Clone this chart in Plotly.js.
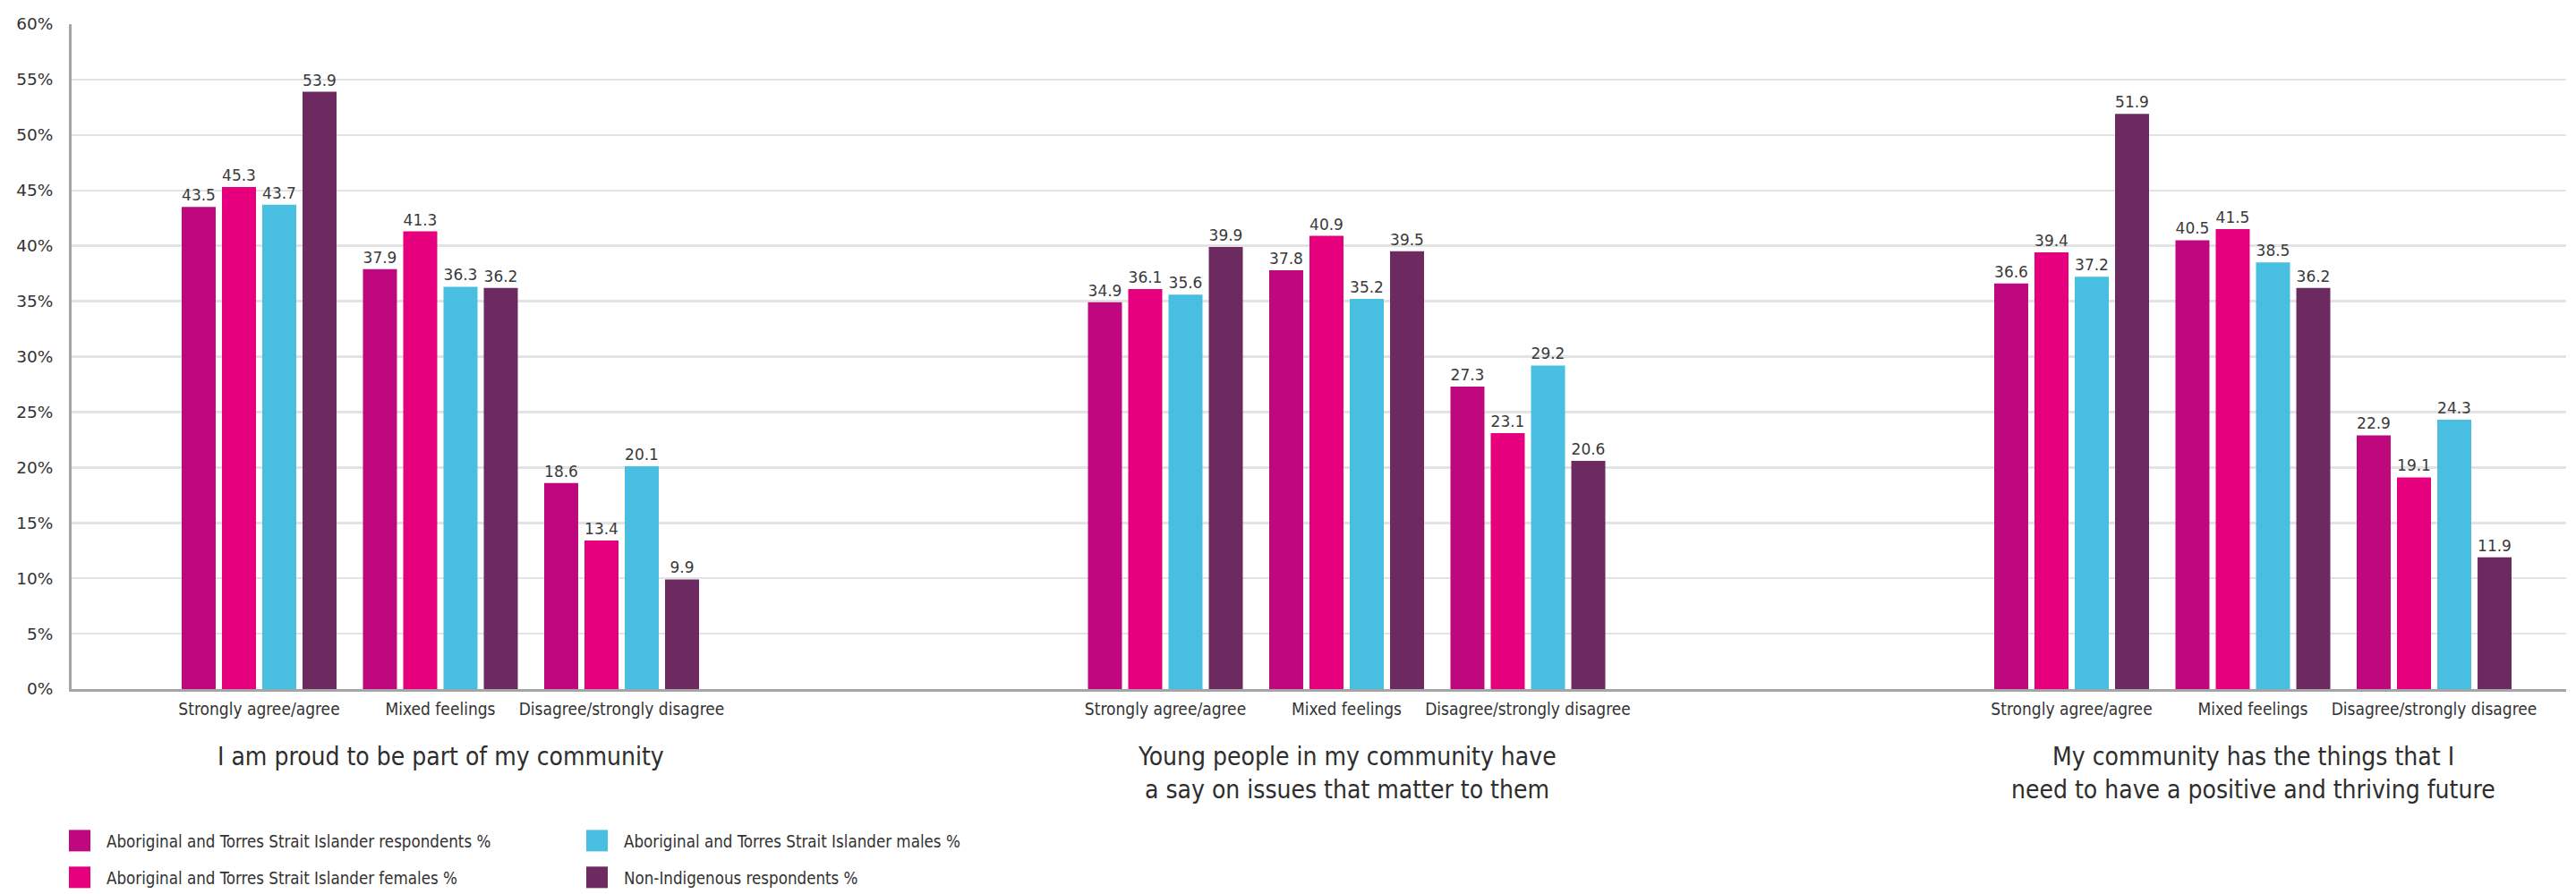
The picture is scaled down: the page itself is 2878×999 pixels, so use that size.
<!DOCTYPE html>
<html>
<head>
<meta charset="utf-8">
<script src="https://cdn.plot.ly/plotly-3.0.1.min.js"></script>
<style>
html, body { margin: 0; padding: 0; background: #ffffff; }
#chart { width: 2878px; height: 999px; }
</style>
</head>
<body>
<div id="chart"></div>
<script>
// ---------------- DATA ----------------
const questions = [
  ["I am proud to be part of my community"],
  ["Young people in my community have", "a say on issues that matter to them"],
  ["My community has the things that I", "need to have a positive and thriving future"]
];
const responses = ["Strongly agree/agree", "Mixed feelings", "Disagree/strongly disagree"];

const seriesNames = [
  "Aboriginal and Torres Strait Islander respondents %",
  "Aboriginal and Torres Strait Islander females %",
  "Aboriginal and Torres Strait Islander males %",
  "Non-Indigenous respondents %"
];
const seriesColors = ["#c0087e", "#e6007e", "#48bee1", "#6c2a60"];

// values per question, in order: [Strongly agree/agree, Mixed feelings, Disagree/strongly disagree]
const atsiRespondents = [43.5, 37.9, 18.6,  34.9, 37.8, 27.3,  36.6, 40.5, 22.9];
const atsiFemales     = [45.3, 41.3, 13.4,  36.1, 40.9, 23.1,  39.4, 41.5, 19.1];
const atsiMales       = [43.7, 36.3, 20.1,  35.6, 35.2, 29.2,  37.2, 38.5, 24.3];
const nonIndigenous   = [53.9, 36.2,  9.9,  39.9, 39.5, 20.6,  51.9, 36.2, 11.9];

const yTickValues = [0, 5, 10, 15, 20, 25, 30, 35, 40, 45, 50, 55, 60];
const yTickLabels = ["0%", "5%", "10%", "15%", "20%", "25%", "30%", "35%", "40%", "45%", "50%", "55%", "60%"];

// ---------------- LAYOUT HELPERS ----------------
const W = 2878, H = 999;
const M = { l: 80, r: 11, t: 27, b: 228.5 };
const plotW = W - M.l - M.r;
const plotH = H - M.t - M.b;
const px2x = px => (px - M.l) / plotW;           // paper x
const py2y = py => (H - M.b - py) / plotH;       // paper y

const SLOTS_PER_QUESTION = 5;                     // 3 responses + 2 empty slots
const xPos = [];
const xLabels = [];
questions.forEach((q, qi) => {
  responses.forEach((r, ri) => {
    xPos.push(qi * SLOTS_PER_QUESTION + ri);
    xLabels.push(r);
  });
});

const seriesValues = [atsiRespondents, atsiFemales, atsiMales, nonIndigenous];

const numFont = "DejaVu Sans, Verdana, sans-serif";
const textFont = "DejaVu Sans Condensed, Liberation Sans Narrow, Arial Narrow, sans-serif";
const textColor = "#333333";

const traces = seriesValues.map((vals, i) => ({
  type: "bar",
  name: seriesNames[i],
  x: xPos,
  y: vals,
  text: vals.map(v => v.toFixed(1)),
  textposition: "outside",
  textfont: { family: numFont, size: 17, color: "#3a3a3a" },
  constraintext: "none",
  cliponaxis: false,
  marker: { color: seriesColors[i], line: { width: 0 } },
  hoverinfo: "name+y"
}));

// question titles (one annotation per line for exact line spacing)
const annotations = [];
const titleLineY = [846, 883];
questions.forEach((lines, qi) => {
  lines.forEach((line, li) => {
    annotations.push({
      xref: "x", yref: "paper",
      x: qi * SLOTS_PER_QUESTION + 1,
      y: py2y(titleLineY[li]),
      xanchor: "center", yanchor: "middle",
      text: line,
      showarrow: false,
      font: { family: textFont, size: 28, color: "#2e2e2e" }
    });
  });
});

// custom legend (two columns)
const legendCols = [[0, 1], [2, 3]];
const legendColX = [77, 655];
const legendRowY = [940, 981];
const shapes = [];
legendCols.forEach((col, ci) => {
  col.forEach((si, ri) => {
    const cx = legendColX[ci];
    const cy = legendRowY[ri];
    shapes.push({
      type: "rect", xref: "paper", yref: "paper",
      x0: px2x(cx), x1: px2x(cx + 24),
      y0: py2y(cy - 12), y1: py2y(cy + 12),
      fillcolor: seriesColors[si], line: { width: 0 }
    });
    annotations.push({
      xref: "paper", yref: "paper",
      x: px2x(cx + 40), y: py2y(cy + 1),
      xanchor: "left", yanchor: "middle",
      text: seriesNames[si],
      showarrow: false,
      font: { family: textFont, size: 18.6, color: textColor }
    });
  });
});

const slotPx = 202.5;
const firstCenterPx = 289.5;
const x0 = -(firstCenterPx - M.l) / slotPx;
const x1 = x0 + plotW / slotPx;

const layout = {
  width: W, height: H,
  margin: M,
  paper_bgcolor: "#ffffff",
  plot_bgcolor: "#ffffff",
  showlegend: false,
  barmode: "group",
  bargap: 0.111,
  bargroupgap: 0.156,
  xaxis: {
    type: "linear",
    range: [x0, x1],
    tickmode: "array",
    tickvals: xPos,
    ticktext: xLabels,
    showgrid: false,
    zeroline: false,
    showline: true,
    linecolor: "#a5a5a5",
    linewidth: 2.5,
    ticks: "",
    ticklabelstandoff: 4,
    tickfont: { family: textFont, size: 19, color: textColor },
    fixedrange: true
  },
  yaxis: {
    range: [0, 60],
    tickmode: "array",
    tickvals: yTickValues,
    ticktext: yTickLabels,
    showgrid: true,
    gridcolor: "#e3e3e3",
    gridwidth: 2.5,
    zeroline: false,
    showline: true,
    linecolor: "#a5a5a5",
    linewidth: 3,
    ticks: "",
    ticklabelstandoff: 14,
    tickfont: { family: numFont, size: 18.5, color: textColor },
    fixedrange: true
  },
  shapes: shapes,
  annotations: annotations
};

Plotly.newPlot("chart", traces, layout, { displayModeBar: false, staticPlot: true });
</script>
</body>
</html>
